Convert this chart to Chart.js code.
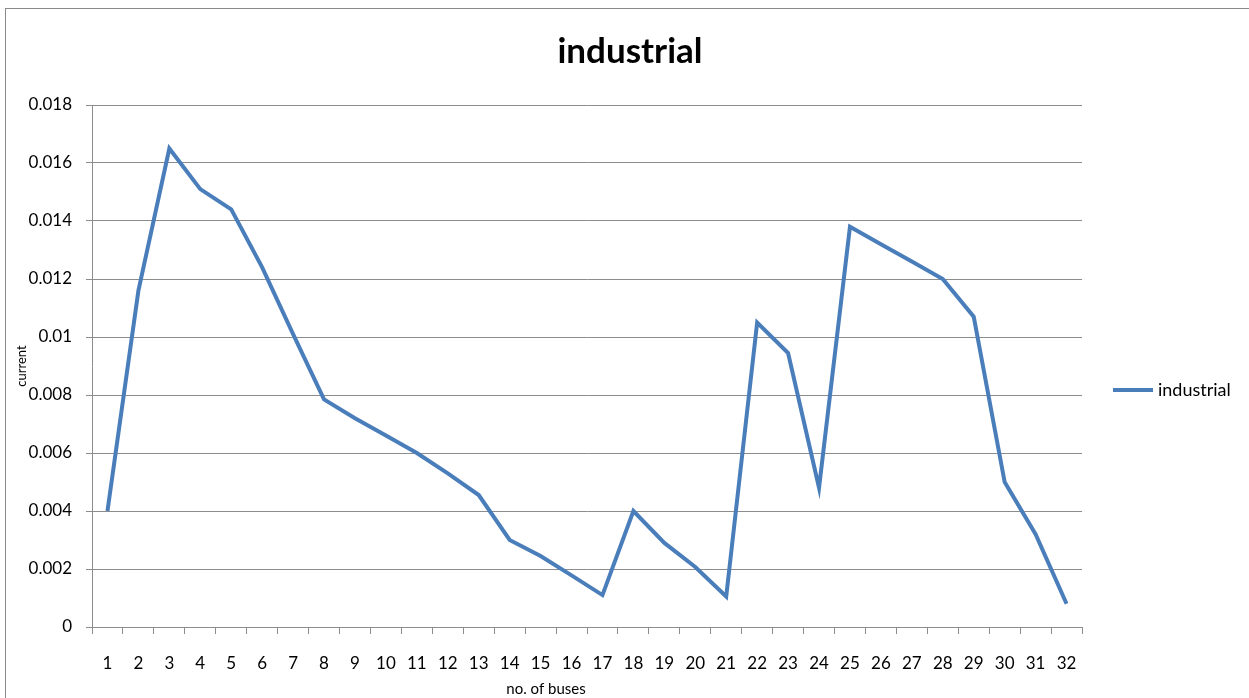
<!DOCTYPE html>
<html>
<head>
<meta charset="utf-8">
<script src="https://cdn.jsdelivr.net/npm/chart.js@4/dist/chart.umd.min.js"></script>
<style>
  html, body { margin: 0; padding: 0; background: #ffffff; }
  #wrap { width: 1249px; height: 698px; position: relative; }
</style>
</head>
<body>
<div id="wrap"><canvas id="chart" width="1249" height="698"></canvas></div>
<script>
// Bus numbers along the x axis
const buses = ['1','2','3','4','5','6','7','8','9','10','11','12','13','14','15','16',
               '17','18','19','20','21','22','23','24','25','26','27','28','29','30','31','32'];
// Current measured at each bus
const industrial = [0.0040, 0.0116, 0.0165, 0.0151, 0.0144, 0.0124, 0.0101, 0.00785,
                    0.0072, 0.0066, 0.0060, 0.0053, 0.00455, 0.0030, 0.00245, 0.00178,
                    0.0011, 0.0040, 0.0029, 0.00207, 0.00105, 0.0105, 0.00945, 0.0048,
                    0.0138, 0.0132, 0.0126, 0.0120, 0.0107, 0.0050, 0.0032, 0.0008];
// Value axis ticks
const yTicks = [0, 0.002, 0.004, 0.006, 0.008, 0.01, 0.012, 0.014, 0.016, 0.018];

const chartTitle = 'industrial';
const xTitle = 'no. of buses';
const yTitle = 'current';

const FONT = 'Lato, "Open Sans", sans-serif';
const GRID = '#8c8c8c';
const LINE = '#4a7ebb';

// Outer frame, chart title, x-axis caption and the side legend
const decorations = {
  id: 'decorations',
  beforeDraw(chart) {
    const ctx = chart.ctx;
    ctx.save();
    ctx.strokeStyle = '#8a8a8a';
    ctx.lineWidth = 1;
    ctx.strokeRect(5.5, 8.5, 1400, 800);
    ctx.restore();
  },
  afterDraw(chart) {
    const ctx = chart.ctx;
    const area = chart.chartArea;
    ctx.save();
    ctx.fillStyle = '#000000';
    // chart title, centred on the whole frame
    ctx.font = 'bold 35px ' + FONT;
    ctx.textAlign = 'center';
    ctx.textBaseline = 'alphabetic';
    ctx.fillText(chartTitle, 630, 63);
    // x-axis caption
    ctx.font = '15px ' + FONT;
    ctx.textBaseline = 'middle';
    ctx.fillText(xTitle, (area.left + area.right) / 2 - 41, 689);
    // legend entry
    const ds = chart.data.datasets[0];
    const ly = 390;
    ctx.strokeStyle = ds.borderColor;
    ctx.lineWidth = 4;
    ctx.beginPath();
    ctx.moveTo(area.right + 31, ly);
    ctx.lineTo(area.right + 71, ly);
    ctx.stroke();
    ctx.font = '18px ' + FONT;
    ctx.textAlign = 'left';
    ctx.fillText(ds.label, area.right + 76, ly);
    ctx.restore();
  }
};

new Chart(document.getElementById('chart'), {
  type: 'line',
  data: {
    labels: buses,
    datasets: [{
      label: 'industrial',
      data: industrial,
      borderColor: LINE,
      backgroundColor: LINE,
      borderWidth: 4,
      pointRadius: 0,
      pointHoverRadius: 0,
      tension: 0,
      borderJoinStyle: 'miter'
    }]
  },
  options: {
    responsive: false,
    animation: false,
    events: [],
    layout: { padding: { left: 0, right: 167, top: 105, bottom: 0 } },
    plugins: {
      legend: { display: false },
      tooltip: { enabled: false },
      title: { display: false }
    },
    scales: {
      x: {
        offset: true,
        afterFit(scale) { scale.height = 71; },
        grid: {
          display: true,
          offset: true,
          drawOnChartArea: false,
          drawTicks: true,
          tickLength: 7,
          color: GRID,
          lineWidth: 1
        },
        border: { display: true, color: GRID, width: 1 },
        ticks: {
          color: '#000000',
          font: { family: FONT, size: 17 },
          padding: 19,
          maxRotation: 0,
          autoSkip: false
        }
      },
      y: {
        min: 0,
        max: 0.018,
        afterFit(scale) { scale.width = 92; },
        afterBuildTicks(scale) { scale.ticks = yTicks.map(v => ({ value: v })); },
        grid: {
          color: GRID,
          lineWidth: 1,
          drawTicks: true,
          tickLength: 6
        },
        border: { display: true, color: GRID, width: 1 },
        ticks: {
          color: '#000000',
          font: { family: FONT, size: 17 },
          padding: 14,
          callback: (v) => String(+v.toFixed(3))
        },
        title: {
          display: true,
          text: yTitle,
          color: '#000000',
          font: { family: FONT, size: 13 },
          padding: { top: 14, bottom: 0 }
        }
      }
    }
  },
  plugins: [decorations]
});
</script>
</body>
</html>
